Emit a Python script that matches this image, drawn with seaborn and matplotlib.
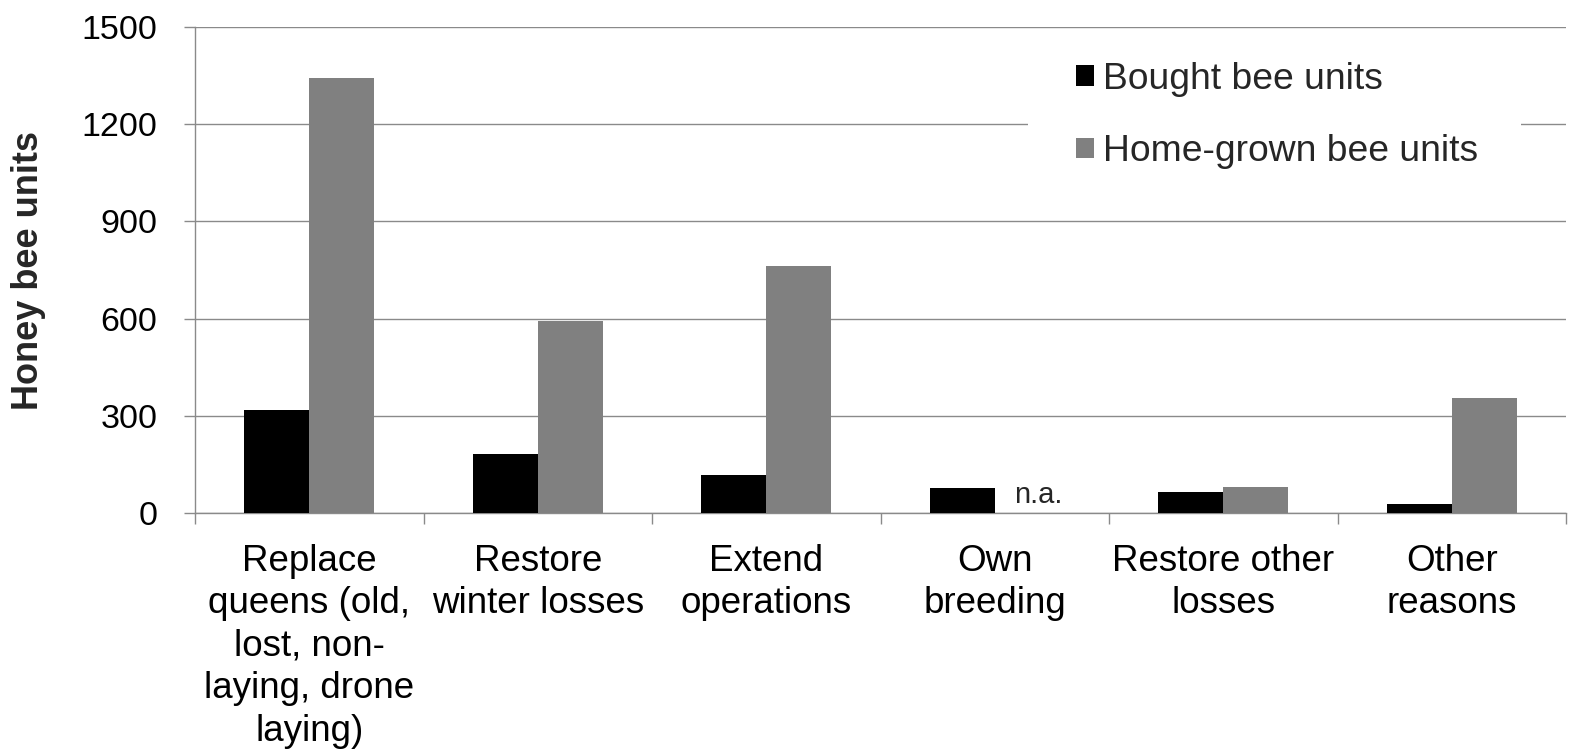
import matplotlib
matplotlib.use("Agg")
import matplotlib.pyplot as plt
from matplotlib.patches import Patch, Rectangle
import numpy as np
import pandas as pd
import seaborn as sns

# Reasons for producing / buying honey bee units
categories = [
    "Replace\nqueens (old,\nlost, non-\nlaying, drone\nlaying)",
    "Restore\nwinter losses",
    "Extend\noperations",
    "Own\nbreeding",
    "Restore other\nlosses",
    "Other\nreasons",
]
series = ["Bought bee units", "Home-grown bee units"]
bought = [318, 183, 116, 76, 65, 29]
home_grown = [1343, 593, 761, np.nan, 80, 354]  # own breeding: not applicable
y_ticks = [0, 300, 600, 900, 1200, 1500]

colors = {"Bought bee units": "#000000", "Home-grown bee units": "#808080"}
grid_col = "#8a8a8a"

df = pd.DataFrame({
    "reason": categories * 2,
    "type": [series[0]] * len(categories) + [series[1]] * len(categories),
    "units": bought + home_grown,
})

sns.set_theme(style="white")
plt.rcParams["font.family"] = ["Liberation Sans", "DejaVu Sans"]

fig = plt.figure(figsize=(15.69, 7.49), dpi=100)
ax = fig.add_axes([195 / 1569, 1 - 513 / 749, (1566 - 195) / 1569, (513 - 27) / 749])

bar_width = 0.57
sns.barplot(data=df, x="reason", y="units", hue="type", order=categories,
            hue_order=series, palette=colors, width=bar_width, errorbar=None,
            saturation=1, ax=ax, legend=False, zorder=3)
for p in ax.patches:
    p.set_edgecolor("none")

ax.set_xlim(-0.5, len(categories) - 0.5)
ax.set_ylim(0, 1500)
ax.set_yticks(y_ticks)
ax.set_yticklabels([str(t) for t in y_ticks])
ax.yaxis.grid(True, color=grid_col, linewidth=1.0, zorder=0)
ax.set_axisbelow(True)

# category labels at centres, tick marks at boundaries
ax.set_xticks(range(len(categories)))
ax.set_xticklabels(categories, linespacing=1.28)
ax.set_xticks(np.arange(-0.5, len(categories), 1.0), minor=True)
ax.tick_params(axis="x", which="major", length=0, pad=22, labelsize=26.5, colors="black")
ax.tick_params(axis="x", which="minor", length=8, width=1.0, color=grid_col, direction="out", bottom=True)
ax.tick_params(axis="y", which="major", length=8, width=1.0, color=grid_col, direction="out",
               pad=19, labelsize=24.5, labelcolor="black", left=True)
for lab in ax.get_xticklabels():
    lab.set_va("top")

for side in ["top", "right"]:
    ax.spines[side].set_visible(False)
for side in ["left", "bottom"]:
    ax.spines[side].set_color(grid_col)
    ax.spines[side].set_linewidth(1.0)

ax.set_xlabel("")
ax.set_ylabel("Honey bee units", fontsize=26, fontweight="bold", labelpad=26)

# n.a. marker for missing home-grown value
na_idx = int(np.where(np.isnan(home_grown))[0][0])
ax.annotate("n.a.", xy=(na_idx + bar_width / 4, 0), xytext=(8, 3),
            textcoords="offset points", ha="center", va="bottom", fontsize=21, zorder=4)

# legend on a white panel over the grid
panel = Rectangle((1028 / 1569, 1 - 200 / 749), (1521 - 1028) / 1569, (200 - 45) / 749,
                  transform=fig.transFigure, facecolor="white", edgecolor="none", zorder=2)
fig.patches.append(panel)
handles = [Patch(facecolor=colors[s], edgecolor="none", label=s) for s in series]
leg = fig.legend(handles=handles, loc="upper left", bbox_to_anchor=(1076 / 1569, 1 - 62 / 749),
                 frameon=False, fontsize=26.8, handlelength=0.48, handleheight=0.48,
                 handletextpad=0.25, labelspacing=1.0, borderaxespad=0, borderpad=0)

fig.savefig("out.png", dpi=100)
